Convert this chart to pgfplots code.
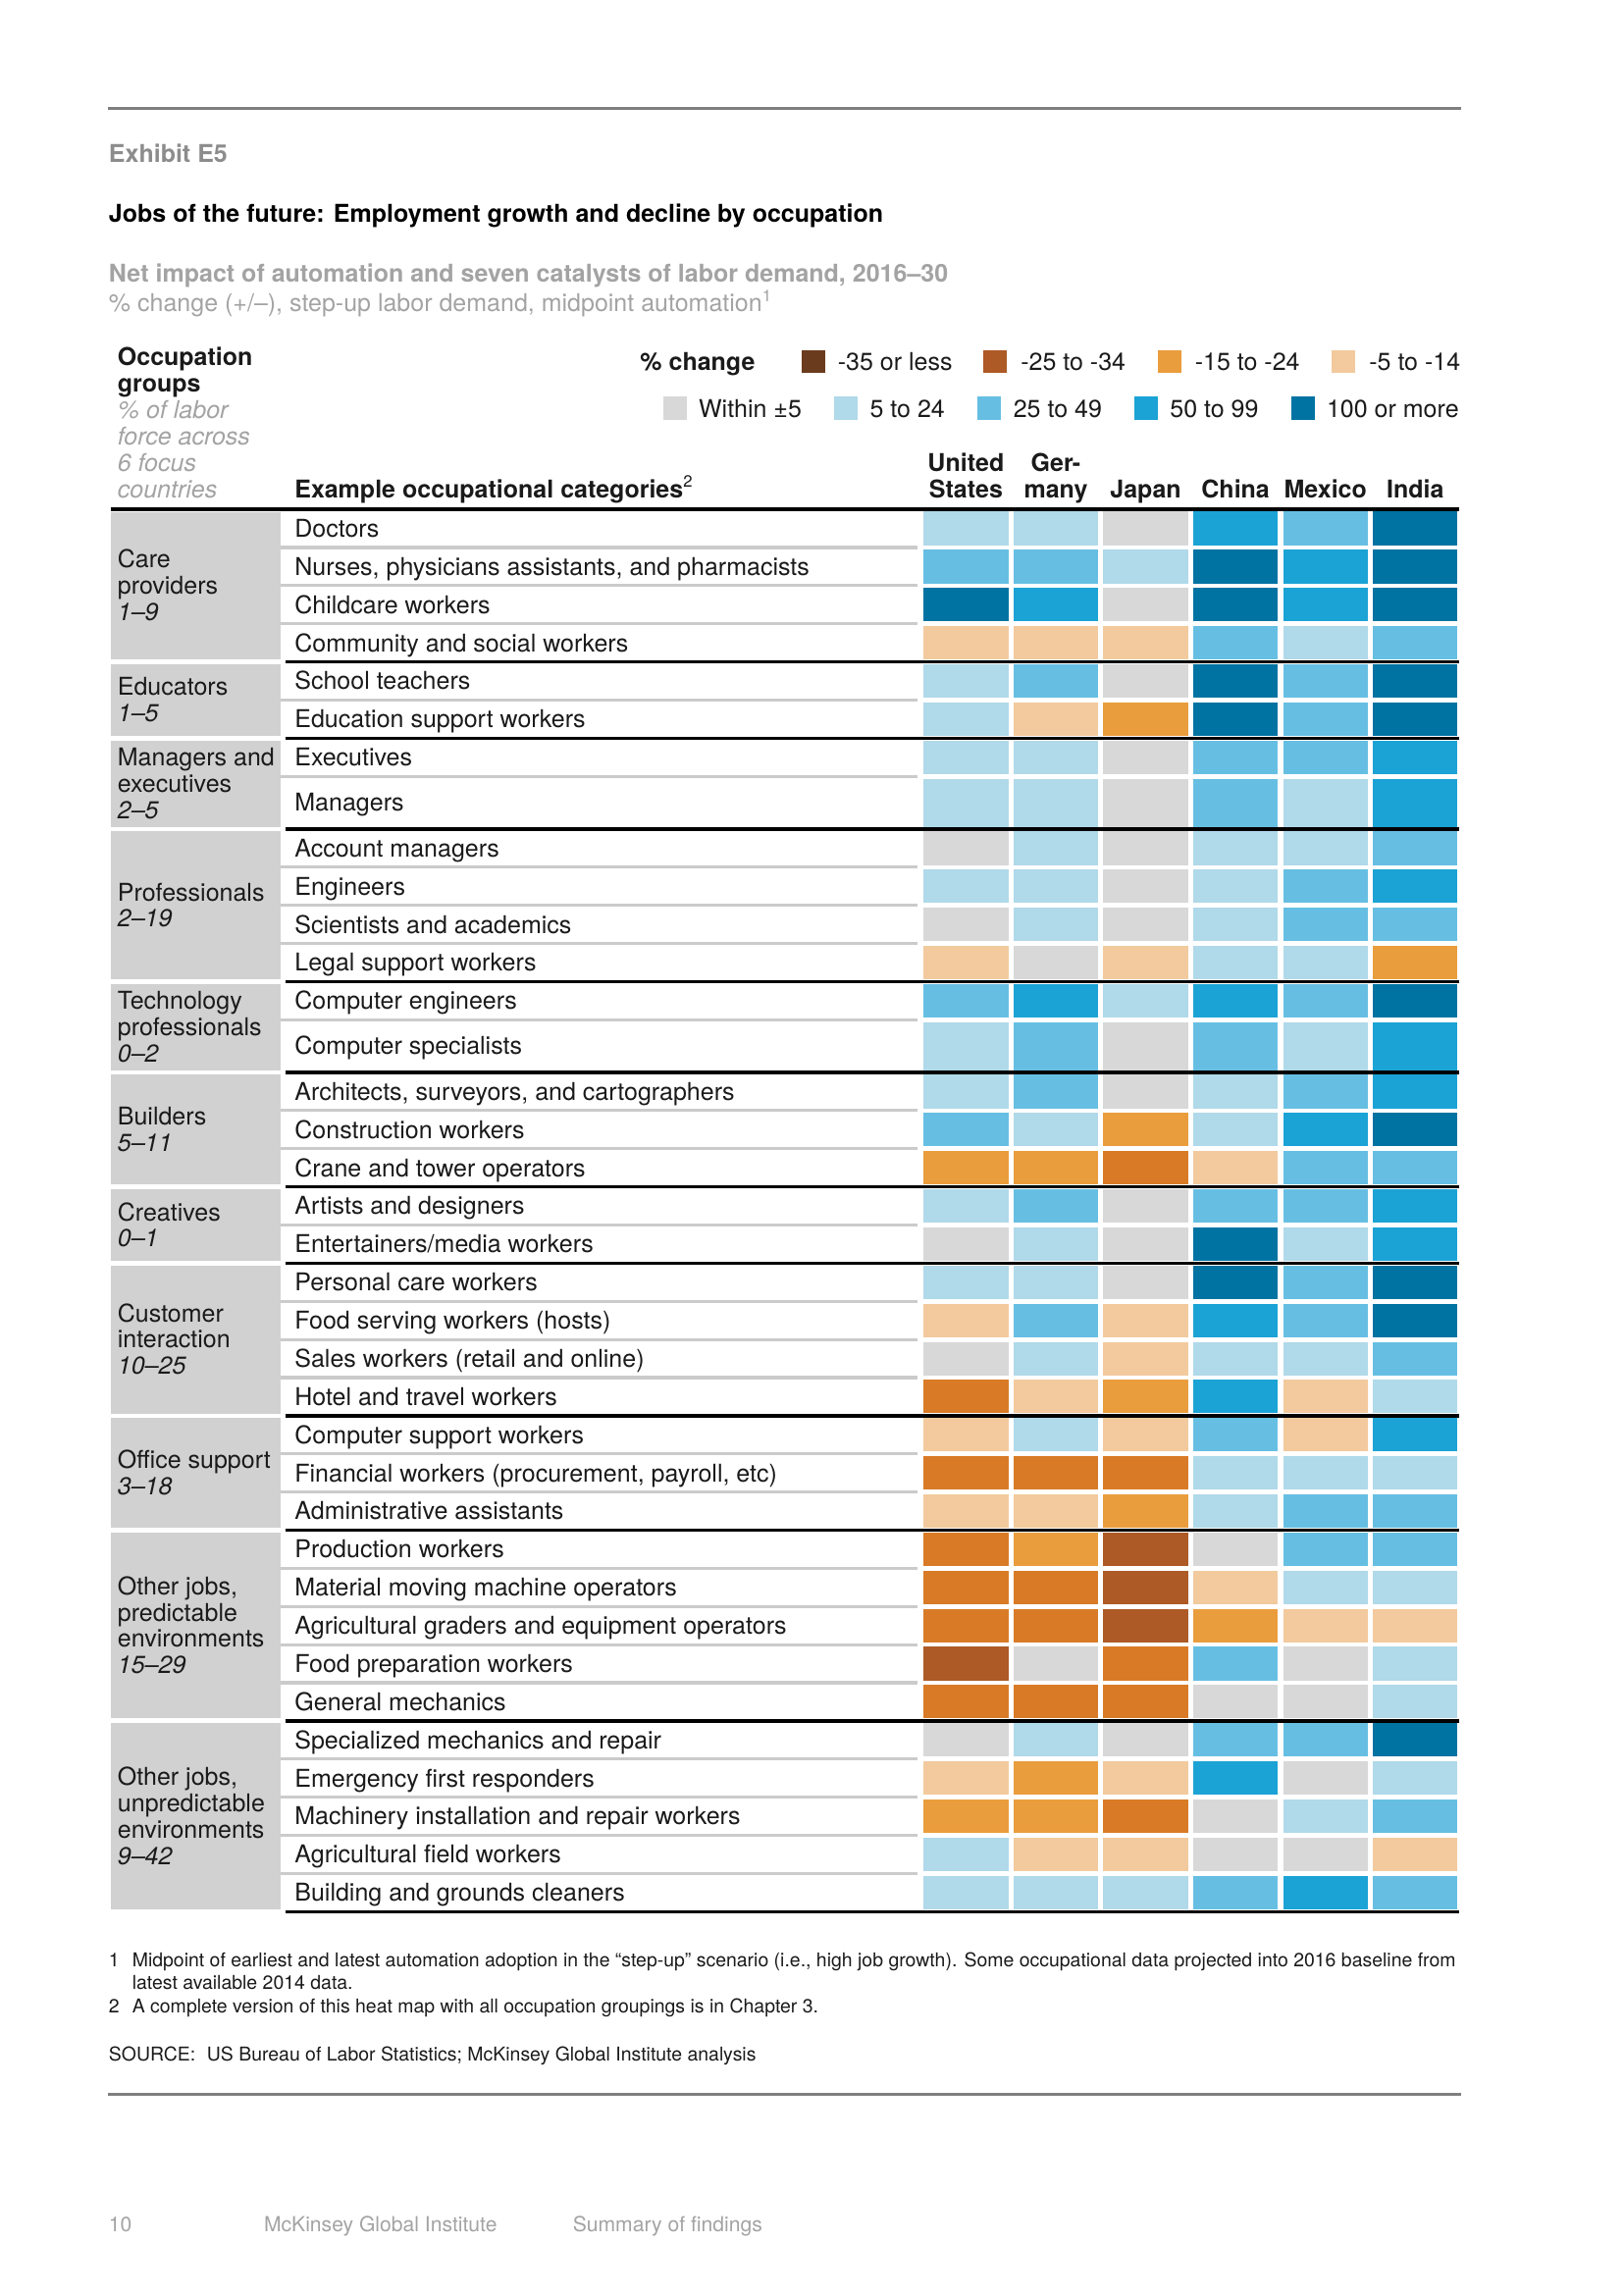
\documentclass[border=0pt]{standalone}
\usepackage{pgfplots}
\pgfplotsset{compat=1.18}
\usepackage{pgfplotstable}
\usepackage{fontspec}
\setmainfont{TeX Gyre Heros}

\definecolor{cDB}{HTML}{6A3B1C}
\definecolor{cB}{HTML}{AD5A26}
\definecolor{cD}{HTML}{D97B26}
\definecolor{cO}{HTML}{EA9D3D}
\definecolor{cP}{HTML}{F2CA9E}
\definecolor{cG}{HTML}{D8D8D8}
\definecolor{cL}{HTML}{B0D9E9}
\definecolor{cM}{HTML}{66BFE3}
\definecolor{cC}{HTML}{1BA3D6}
\definecolor{cK}{HTML}{0073A2}
\definecolor{boxgrey}{HTML}{D1D1D1}
\definecolor{sepgrey}{HTML}{CBCBCB}
\definecolor{rulegrey}{HTML}{7F7F7F}
\definecolor{greytxt}{HTML}{A3A3A3}
\definecolor{exgrey}{HTML}{8C8C8C}
\definecolor{txt}{HTML}{1A1A1A}

\pgfdeclareplotmark{cell}{\pgfpathrectangle{\pgfpoint{-15.51pt}{-6.135pt}}{\pgfpoint{31.03pt}{12.27pt}}\pgfusepathqfill}
\pgfdeclareplotmark{tcell}{\pgfpathrectangle{\pgfpoint{-15.51pt}{-8.80pt}}{\pgfpoint{31.03pt}{17.61pt}}\pgfusepathqfill}
\pgfdeclareplotmark{sw}{\pgfpathrectangle{\pgfpoint{-4.3pt}{-4.3pt}}{\pgfpoint{8.6pt}{8.6pt}}\pgfusepathqfill}

\pgfplotsset{
  heat/.style={scatter, only marks, point meta=explicit symbolic,
    scatter/classes={
      P={mark=cell,color=cP}, O={mark=cell,color=cO}, D={mark=cell,color=cD},
      B={mark=cell,color=cB}, G={mark=cell,color=cG}, L={mark=cell,color=cL},
      M={mark=cell,color=cM}, C={mark=cell,color=cC}, K={mark=cell,color=cK},
      Gt={mark=tcell,color=cG}, Lt={mark=tcell,color=cL},
      Mt={mark=tcell,color=cM}, Ct={mark=tcell,color=cC}}},
}
\newcommand\nine{\fontsize{9}{10.8}\selectfont}
\tikzset{
  lab/.style={anchor=base west, inner sep=0pt, yshift=-0.5pt, font=\nine, text=txt},
  hb/.style={anchor=base, inner sep=0pt, yshift=-0.5pt, font=\nine\bfseries, text=txt},
  fn/.style={anchor=base west, inner sep=0pt, font=\fontsize{7.0}{8}\selectfont, text=txt},
  ft/.style={anchor=base west, inner sep=0pt, font=\fontsize{7.6}{9}\selectfont, text=greytxt},
}

% heat map: row centre y (page units), classes per country
\pgfplotstableread{
y      US DE JP CN MX IN
361.0  L  L  G  C  M  K
387.1  M  M  L  K  C  K
413.2  K  C  G  K  C  K
439.2  P  P  P  M  L  M
465.3  L  M  G  K  M  K
491.3  L  P  O  K  M  K
517.4  L  L  G  M  M  C
548.4  Lt Lt Gt Mt Lt Ct
579.5  G  L  G  L  L  M
605.5  L  L  G  L  M  C
631.6  G  L  G  L  M  M
657.6  P  G  P  L  L  O
683.7  M  C  L  C  M  K
714.7  Lt Mt Gt Mt Lt Ct
745.8  L  M  G  L  M  C
771.8  M  L  O  L  C  K
797.9  O  O  D  P  M  M
823.9  L  M  G  M  M  C
850.0  G  L  G  K  L  C
876.0  L  L  G  K  M  K
902.1  P  M  P  C  M  K
928.2  G  L  P  L  L  M
954.2  D  P  O  C  P  L
980.3  P  L  P  M  P  C
1006.4 D  D  D  L  L  L
1032.4 P  P  O  L  M  M
1058.5 D  O  B  G  M  M
1084.5 D  D  B  P  L  L
1110.6 D  D  B  O  P  P
1136.6 B  G  D  M  G  L
1162.7 D  D  D  G  G  L
1188.8 G  L  G  M  M  K
1214.8 P  O  P  C  G  L
1240.9 O  O  D  G  L  M
1267.0 L  P  P  G  G  P
1293.0 L  L  L  M  C  M
}\heat

\begin{document}
\begin{tikzpicture}
\begin{axis}[
  x=0.5368pt, y=0.5368pt, y dir=reverse,
  xmin=0, xmax=1109, ymin=0, ymax=1568,
  hide axis, clip=false,
]
\path (axis cs:0,0) (axis cs:1109,1568);

% rules
\addplot[rulegrey, line width=1.3pt] coordinates {(74,74) (998,74)};
\addplot[rulegrey, line width=1.3pt] coordinates {(74,1431) (998,1431)};

% group boxes
\addplot[fill=boxgrey, draw=none] coordinates {(76,349.6) (192,349.6) (192,450.6) (76,450.6)};
\addplot[fill=boxgrey, draw=none] coordinates {(76,453.9) (192,453.9) (192,502.8) (76,502.8)};
\addplot[fill=boxgrey, draw=none] coordinates {(76,506.0) (192,506.0) (192,564.8) (76,564.8)};
\addplot[fill=boxgrey, draw=none] coordinates {(76,568.0) (192,568.0) (192,669.1) (76,669.1)};
\addplot[fill=boxgrey, draw=none] coordinates {(76,672.3) (192,672.3) (192,731.1) (76,731.1)};
\addplot[fill=boxgrey, draw=none] coordinates {(76,734.3) (192,734.3) (192,809.3) (76,809.3)};
\addplot[fill=boxgrey, draw=none] coordinates {(76,812.5) (192,812.5) (192,861.4) (76,861.4)};
\addplot[fill=boxgrey, draw=none] coordinates {(76,864.6) (192,864.6) (192,965.7) (76,965.7)};
\addplot[fill=boxgrey, draw=none] coordinates {(76,968.9) (192,968.9) (192,1043.8) (76,1043.8)};
\addplot[fill=boxgrey, draw=none] coordinates {(76,1047.0) (192,1047.0) (192,1174.1) (76,1174.1)};
\addplot[fill=boxgrey, draw=none] coordinates {(76,1177.3) (192,1177.3) (192,1304.3) (76,1304.3)};

% heat cells
\addplot[heat] table[x expr=659.9, y=y, meta=US] {\heat};
\addplot[heat] table[x expr=721.3, y=y, meta=DE] {\heat};
\addplot[heat] table[x expr=782.7, y=y, meta=JP] {\heat};
\addplot[heat] table[x expr=844.1, y=y, meta=CN] {\heat};
\addplot[heat] table[x expr=905.5, y=y, meta=MX] {\heat};
\addplot[heat] table[x expr=966.9, y=y, meta=IN] {\heat};

% row separators
\addplot[sepgrey, line width=1.1pt, unbounded coords=jump] coordinates {
(192,374.06) (627,374.06) (nan,nan) (192,400.12) (627,400.12) (nan,nan)
(192,426.18) (627,426.18) (nan,nan) (192,478.3) (627,478.3) (nan,nan)
(192,530.42) (627,530.42) (nan,nan) (192,592.48) (627,592.48) (nan,nan)
(192,618.54) (627,618.54) (nan,nan) (192,644.6) (627,644.6) (nan,nan)
(192,696.72) (627,696.72) (nan,nan) (192,758.78) (627,758.78) (nan,nan)
(192,784.84) (627,784.84) (nan,nan) (192,836.96) (627,836.96) (nan,nan)
(192,889.08) (627,889.08) (nan,nan) (192,915.14) (627,915.14) (nan,nan)
(192,941.2) (627,941.2) (nan,nan) (192,993.32) (627,993.32) (nan,nan)
(192,1019.38) (627,1019.38) (nan,nan) (192,1071.5) (627,1071.5) (nan,nan)
(192,1097.56) (627,1097.56) (nan,nan) (192,1123.62) (627,1123.62) (nan,nan)
(192,1149.68) (627,1149.68) (nan,nan) (192,1201.8) (627,1201.8) (nan,nan)
(192,1227.86) (627,1227.86) (nan,nan) (192,1253.92) (627,1253.92) (nan,nan)
(192,1279.98) (627,1279.98)};

% header and group lines
\addplot[black, line width=1.3pt] coordinates {(76,348) (997,348)};
\addplot[black, line width=1.2pt, unbounded coords=jump] coordinates {
(195,452.24) (997,452.24) (nan,nan) (195,504.36) (997,504.36) (nan,nan)
(195,566.42) (997,566.42) (nan,nan) (195,670.66) (997,670.66) (nan,nan)
(195,732.72) (997,732.72) (nan,nan) (195,810.9) (997,810.9) (nan,nan)
(195,863.02) (997,863.02) (nan,nan) (195,967.26) (997,967.26) (nan,nan)
(195,1045.44) (997,1045.44) (nan,nan) (195,1175.74) (997,1175.74) (nan,nan)
(195,1306.04) (997,1306.04)};

% legend swatches
\addplot[only marks, mark=sw, color=cDB] coordinates {(556,247)};
\addplot[only marks, mark=sw, color=cB] coordinates {(680,247)};
\addplot[only marks, mark=sw, color=cO] coordinates {(799,247)};
\addplot[only marks, mark=sw, color=cP] coordinates {(918,247)};
\addplot[only marks, mark=sw, color=cG] coordinates {(461,279)};
\addplot[only marks, mark=sw, color=cL] coordinates {(578,279)};
\addplot[only marks, mark=sw, color=cM] coordinates {(676,279)};
\addplot[only marks, mark=sw, color=cC] coordinates {(783,279)};
\addplot[only marks, mark=sw, color=cK] coordinates {(890,279)};

% titles
\node[lab, font=\nine\bfseries, text=exgrey] at (axis cs:74,110) {Exhibit E5};
\node[lab, font=\nine\bfseries, text=black] at (axis cs:74,151) {Jobs of the future: Employment growth and decline by occupation};
\node[lab, font=\nine\bfseries, text=greytxt] at (axis cs:74,192) {Net impact of automation and seven catalysts of labor demand, 2016–30};
\node[lab, text=greytxt] at (axis cs:74,212) {\% change (+/–), step-up labor demand, midpoint automation\textsuperscript{1}};

% legend text
\node[lab, font=\nine\bfseries] at (axis cs:437,252) {\% change};
\node[lab] at (axis cs:572,252) {-35 or less};
\node[lab] at (axis cs:697,252) {-25 to -34};
\node[lab] at (axis cs:816,252) {-15 to -24};
\node[lab] at (axis cs:935,252) {-5 to -14};
\node[lab] at (axis cs:477,284) {Within ±5};
\node[lab] at (axis cs:594,284) {5 to 24};
\node[lab] at (axis cs:692,284) {25 to 49};
\node[lab] at (axis cs:799,284) {50 to 99};
\node[lab] at (axis cs:906,284) {100 or more};

% column heads
\node[lab, font=\nine\bfseries] at (axis cs:80,249) {Occupation};
\node[lab, font=\nine\bfseries] at (axis cs:80,267) {groups};
\node[lab, font=\nine\itshape, text=greytxt] at (axis cs:80,285) {\% of labor};
\node[lab, font=\nine\itshape, text=greytxt] at (axis cs:80,303) {force across};
\node[lab, font=\nine\itshape, text=greytxt] at (axis cs:80,321) {6 focus};
\node[lab, font=\nine\itshape, text=greytxt] at (axis cs:80,339) {countries};
\node[lab, font=\nine\bfseries] at (axis cs:201,339) {Example occupational categories\textsuperscript{\mdseries 2}};
\node[hb] at (axis cs:659.9,321) {United};
\node[hb] at (axis cs:659.9,339) {States};
\node[hb] at (axis cs:721.3,321) {Ger-};
\node[hb] at (axis cs:721.3,339) {many};
\node[hb] at (axis cs:782.7,339) {Japan};
\node[hb] at (axis cs:844.1,339) {China};
\node[hb] at (axis cs:905.5,339) {Mexico};
\node[hb] at (axis cs:966.9,339) {India};

% group labels
\node[lab] at (axis cs:80,387.1) {Care};
\node[lab] at (axis cs:80,405.1) {providers};
\node[lab, font=\nine\itshape] at (axis cs:80,423.1) {1–9};
\node[lab] at (axis cs:80,474.3) {Educators};
\node[lab, font=\nine\itshape] at (axis cs:80,492.3) {1–5};
\node[lab] at (axis cs:80,522.4) {Managers and};
\node[lab] at (axis cs:80,540.4) {executives};
\node[lab, font=\nine\itshape] at (axis cs:80,558.4) {2–5};
\node[lab] at (axis cs:80,614.5) {Professionals};
\node[lab, font=\nine\itshape] at (axis cs:80,632.5) {2–19};
\node[lab] at (axis cs:80,688.7) {Technology};
\node[lab] at (axis cs:80,706.7) {professionals};
\node[lab, font=\nine\itshape] at (axis cs:80,724.7) {0–2};
\node[lab] at (axis cs:80,767.8) {Builders};
\node[lab, font=\nine\itshape] at (axis cs:80,785.8) {5–11};
\node[lab] at (axis cs:80,833) {Creatives};
\node[lab, font=\nine\itshape] at (axis cs:80,851) {0–1};
\node[lab] at (axis cs:80,902.1) {Customer};
\node[lab] at (axis cs:80,920.1) {interaction};
\node[lab, font=\nine\itshape] at (axis cs:80,938.1) {10–25};
\node[lab] at (axis cs:80,1002.4) {Office support};
\node[lab, font=\nine\itshape] at (axis cs:80,1020.4) {3–18};
\node[lab] at (axis cs:80,1088.6) {Other jobs,};
\node[lab] at (axis cs:80,1106.6) {predictable};
\node[lab] at (axis cs:80,1124.6) {environments};
\node[lab, font=\nine\itshape] at (axis cs:80,1142.6) {15–29};
\node[lab] at (axis cs:80,1218.9) {Other jobs,};
\node[lab] at (axis cs:80,1236.9) {unpredictable};
\node[lab] at (axis cs:80,1254.9) {environments};
\node[lab, font=\nine\itshape] at (axis cs:80,1272.9) {9–42};

% row labels
\node[lab] at (axis cs:201,366.0) {Doctors};
\node[lab] at (axis cs:201,392.1) {Nurses, physicians assistants, and pharmacists};
\node[lab] at (axis cs:201,418.2) {Childcare workers};
\node[lab] at (axis cs:201,444.2) {Community and social workers};
\node[lab] at (axis cs:201,470.3) {School teachers};
\node[lab] at (axis cs:201,496.3) {Education support workers};
\node[lab] at (axis cs:201,522.4) {Executives};
\node[lab] at (axis cs:201,553.4) {Managers};
\node[lab] at (axis cs:201,584.5) {Account managers};
\node[lab] at (axis cs:201,610.5) {Engineers};
\node[lab] at (axis cs:201,636.6) {Scientists and academics};
\node[lab] at (axis cs:201,662.6) {Legal support workers};
\node[lab] at (axis cs:201,688.7) {Computer engineers};
\node[lab] at (axis cs:201,719.7) {Computer specialists};
\node[lab] at (axis cs:201,750.8) {Architects, surveyors, and cartographers};
\node[lab] at (axis cs:201,776.8) {Construction workers};
\node[lab] at (axis cs:201,802.9) {Crane and tower operators};
\node[lab] at (axis cs:201,828.9) {Artists and designers};
\node[lab] at (axis cs:201,855.0) {Entertainers/media workers};
\node[lab] at (axis cs:201,881.0) {Personal care workers};
\node[lab] at (axis cs:201,907.1) {Food serving workers (hosts)};
\node[lab] at (axis cs:201,933.2) {Sales workers (retail and online)};
\node[lab] at (axis cs:201,959.2) {Hotel and travel workers};
\node[lab] at (axis cs:201,985.3) {Computer support workers};
\node[lab] at (axis cs:201,1011.4) {Financial workers (procurement, payroll, etc)};
\node[lab] at (axis cs:201,1037.4) {Administrative assistants};
\node[lab] at (axis cs:201,1063.5) {Production workers};
\node[lab] at (axis cs:201,1089.5) {Material moving machine operators};
\node[lab] at (axis cs:201,1115.6) {Agricultural graders and equipment operators};
\node[lab] at (axis cs:201,1141.6) {Food preparation workers};
\node[lab] at (axis cs:201,1167.7) {General mechanics};
\node[lab] at (axis cs:201,1193.8) {Specialized mechanics and repair};
\node[lab] at (axis cs:201,1219.8) {Emergency first responders};
\node[lab] at (axis cs:201,1245.9) {Machinery installation and repair workers};
\node[lab] at (axis cs:201,1272.0) {Agricultural field workers};
\node[lab] at (axis cs:201,1298.0) {Building and grounds cleaners};

% footnotes
\node[fn] at (axis cs:74,1344) {1};
\node[fn] at (axis cs:90,1344) {Midpoint of earliest and latest automation adoption in the “step-up” scenario (i.e., high job growth). Some occupational data projected into 2016 baseline from};
\node[fn] at (axis cs:90,1359) {latest available 2014 data.};
\node[fn] at (axis cs:74,1375) {2};
\node[fn] at (axis cs:90,1375) {A complete version of this heat map with all occupation groupings is in Chapter 3.};
\node[fn] at (axis cs:74,1408) {SOURCE:};
\node[fn] at (axis cs:141,1408) {US Bureau of Labor Statistics; McKinsey Global Institute analysis};

% page footer
\node[ft] at (axis cs:74,1525) {10};
\node[ft] at (axis cs:180,1525) {McKinsey Global Institute};
\node[ft] at (axis cs:391,1525) {Summary of findings};
\end{axis}
\end{tikzpicture}
\end{document}
